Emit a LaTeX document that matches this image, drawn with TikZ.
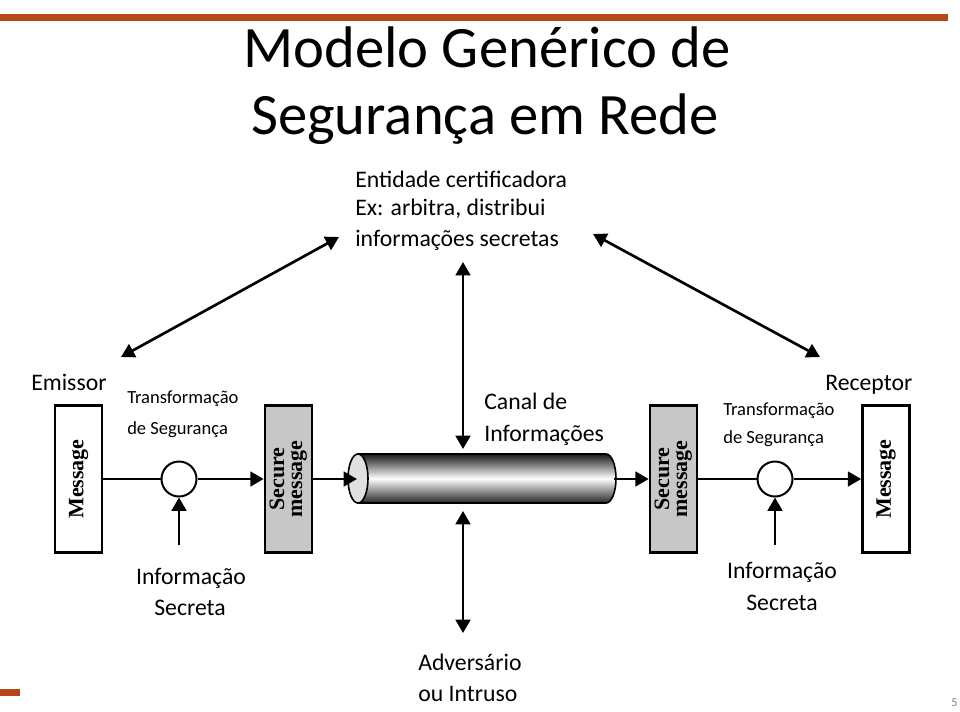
\documentclass[tikz,border=0pt]{standalone}
\usepackage{fontspec}
\setmainfont{Carlito}
\newfontfamily\boxfont{Liberation Serif}
\usetikzlibrary{arrows.meta}
\definecolor{barorange}{RGB}{183,71,22}
\begin{document}
\begin{tikzpicture}[x=0.75pt,y=-0.75pt,
  tipA/.style={-{Triangle[length=10pt,width=11pt]}},
  bothA/.style={{Triangle[length=10pt,width=11pt]}-{Triangle[length=10pt,width=11pt]}},
  conn/.style={line width=2pt},
  box/.style={draw, line width=2pt, minimum width=35.25pt, minimum height=110.25pt, inner sep=0pt, font=\boxfont\bfseries\fontsize{16.5}{13.5}\selectfont},
  wbox/.style={box, fill=white},
  gbox/.style={box, fill=black!22},
  circ/.style={draw, circle, line width=1.5pt, minimum size=26.25pt, inner sep=0pt, fill=white},
  txt/.style={font=\fontsize{17.8}{21}\selectfont, inner sep=0pt, anchor=base west},
  small/.style={font=\fontsize{13.9}{16}\selectfont, inner sep=0pt, anchor=base west}]
\path[use as bounding box] (0,0) rectangle (960,711);
% decorations
\fill[barorange] (0,14) rectangle (948,21);
\fill[barorange] (0,689) rectangle (20,696);
\node[font=\fontsize{9}{10}\selectfont, text=gray, anchor=base west, inner sep=0pt] (pg) at (951,706) {5};
% title
\node[font=\fontsize{44}{50}\selectfont, anchor=base, inner sep=0pt] (t1) at (487,67) {Modelo Genérico de};
\node[font=\fontsize{44}{50}\selectfont, anchor=base, inner sep=0pt] (t2) at (485,134) {Segurança em Rede};
% texts
\node[txt] (ent1) at (355,187) {Entidade certificadora};
\node[txt] (ent2) at (355,215) {Ex: arbitra, distribui};
\node[txt] (ent3) at (355,246) {informações secretas};
\node[txt] (emi) at (31,390) {Emissor};
\node[txt] (rec) at (825,390) {Receptor};
\node[small] (trL1) at (127,403) {Transformação};
\node[small] (trL2) at (127,434) {de Segurança};
\node[small] (trR1) at (723,415) {Transformação};
\node[small] (trR2) at (723,443) {de Segurança};
\node[txt] (can1) at (484,409) {Canal de};
\node[txt] (can2) at (484,441) {Informações};
\node[txt, anchor=base] (isL1) at (191,584) {Informação};
\node[txt, anchor=base] (isL2) at (190,615) {Secreta};
\node[txt, anchor=base] (isR1) at (782,578) {Informação};
\node[txt, anchor=base] (isR2) at (782,610) {Secreta};
\node[txt] (adv1) at (418,670) {Adversário};
\node[txt] (adv2) at (418,701) {ou Intruso};
% boxes
\node[wbox] (msgL) at (78.5,479) {\rotatebox{90}{Message}};
\node[gbox] (secL) at (288.5,479) {\rotatebox{90}{\begin{tabular}{@{}c@{}}Secure\\message\end{tabular}}};
\node[gbox] (secR) at (673.5,479) {\rotatebox{90}{\begin{tabular}{@{}c@{}}Secure\\message\end{tabular}}};
\node[wbox] (msgR) at (886,479) {\rotatebox{90}{Message}};
\node[circ] (cL) at (179,479) {};
\node[circ] (cR) at (775,479) {};
% cylinder
\shade[top color=black!90, bottom color=black!85, middle color=white, draw=black, line width=1.2pt]
  (358,454) -- (606,454) arc[start angle=90, end angle=-90, x radius=7.5pt, y radius=18.375pt] -- (358,503) -- cycle;
\draw[fill=black!12, line width=1.2pt] (358,478.5) ellipse[x radius=7.5pt, y radius=18.375pt];
\coordinate (cylIn) at (357,479);
\coordinate (cylOut) at (614,479);
% coordinates
\coordinate (inL) at (179,545);
\coordinate (inR) at (775,545);
\coordinate (dl1) at (339,237);
\coordinate (dl2) at (121,357);
\coordinate (dr1) at (593,234);
\coordinate (dr2) at (820,357);
\coordinate (vt1) at (463,262);
\coordinate (vt2) at (463,449);
\coordinate (vb1) at (463,511);
\coordinate (vb2) at (463,633);
% connectors
\draw[conn] (msgL.east) -- (cL.west);
\draw[conn, tipA] (cL.east) -- (secL.west);
\draw[conn, tipA] (inL) -- (cL.south);
\draw[conn, tipA] (secL.east) -- (cylIn);
\draw[conn, tipA] (cylOut) -- (secR.west);
\draw[conn] (secR.east) -- (cR.west);
\draw[conn, tipA] (cR.east) -- (msgR.west);
\draw[conn, tipA] (inR) -- (cR.south);
\draw[conn, bothA] (dl1) -- (dl2);
\draw[conn, bothA] (dr1) -- (dr2);
\draw[conn, bothA] (vt1) -- (vt2);
\draw[conn, bothA] (vb1) -- (vb2);
\end{tikzpicture}
\end{document}
